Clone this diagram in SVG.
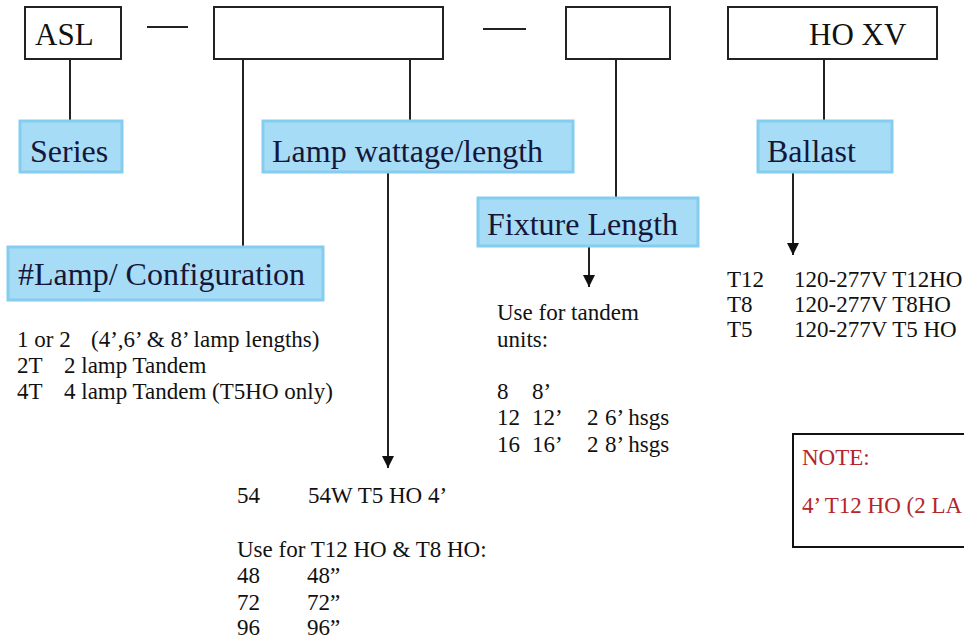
<svg xmlns="http://www.w3.org/2000/svg" width="964" height="640" viewBox="0 0 964 640">
<style>
.code{fill:#fff;stroke:#222;stroke-width:2}
.lab{fill:#a7dcf6;stroke:#84cdee;stroke-width:3}
.lt{font-family:"Liberation Serif","Times New Roman",serif;font-size:32px;fill:#16163a}
.ct{font-family:"Liberation Serif","Times New Roman",serif;font-size:31px;fill:#111}
.bt{font-family:"Liberation Serif","Times New Roman",serif;font-size:23px;fill:#111}
.rt{font-family:"Liberation Serif","Times New Roman",serif;font-size:23px;fill:#b3262b}
.ln{stroke:#222;stroke-width:2;fill:none}
</style>
<defs>
<marker id="ah" viewBox="0 0 10 10" refX="10" refY="5" markerWidth="6" markerHeight="6" markerUnits="strokeWidth" orient="auto">
<path d="M0,0 L10,5 L0,10 z" fill="#111"/>
</marker>
</defs>
<rect width="964" height="640" fill="#fff"/>
<g id="connectors">
<line class="ln" x1="147" y1="27" x2="188" y2="27"/>
<line class="ln" x1="483" y1="29" x2="526" y2="29"/>
<line class="ln" x1="70" y1="59" x2="70" y2="121"/>
<line class="ln" x1="243" y1="59" x2="243" y2="247"/>
<line class="ln" x1="410" y1="59" x2="410" y2="121"/>
<line class="ln" x1="616" y1="59" x2="616" y2="198"/>
<line class="ln" x1="824" y1="59" x2="824" y2="121"/>
<line class="ln" x1="388" y1="172" x2="388" y2="468" marker-end="url(#ah)"/>
<line class="ln" x1="589" y1="246" x2="589" y2="287" marker-end="url(#ah)"/>
<line class="ln" x1="793" y1="172" x2="793" y2="255" marker-end="url(#ah)"/>
</g>
<g id="code-asl"><rect class="code" x="25" y="7" width="96" height="52"/><text class="ct" x="35" y="45">ASL</text></g>
<g id="code-lamp"><rect class="code" x="214" y="7" width="229" height="52"/></g>
<g id="code-fixture"><rect class="code" x="566" y="7" width="104" height="52"/></g>
<g id="code-ballast"><rect class="code" x="728" y="7" width="209" height="52"/><text class="ct" x="809" y="45">HO XV</text></g>
<g id="series"><rect class="lab" x="20" y="121" width="102" height="51"/><text class="lt" x="30" y="162">Series</text></g>
<g id="lamp-wattage"><rect class="lab" x="263" y="121" width="310" height="51"/><text class="lt" x="272" y="162">Lamp wattage/length</text></g>
<g id="ballast"><rect class="lab" x="758" y="121" width="134" height="51"/><text class="lt" x="767" y="162">Ballast</text></g>
<g id="fixture-length"><rect class="lab" x="478" y="198" width="220" height="48"/><text class="lt" x="487" y="235">Fixture Length</text></g>
<g id="lamp-config"><rect class="lab" x="8" y="247" width="315" height="53"/><text class="lt" x="18" y="285">#Lamp/ Configuration</text></g>
<g id="config-list" class="bt">
<text class="bt" x="17" y="347">1 or 2</text><text class="bt" x="91" y="347">(4’,6’ &amp; 8’ lamp lengths)</text>
<text class="bt" x="17" y="373">2T</text><text class="bt" x="64" y="373">2 lamp Tandem</text>
<text class="bt" x="17" y="399">4T</text><text class="bt" x="64" y="399">4 lamp Tandem (T5HO only)</text>
</g>
<g id="fixture-list">
<text class="bt" x="497" y="320">Use for tandem</text>
<text class="bt" x="497" y="347">units:</text>
<text class="bt" x="497" y="399">8</text><text class="bt" x="532" y="399">8’</text>
<text class="bt" x="497" y="425">12</text><text class="bt" x="532" y="425">12’</text><text class="bt" x="587" y="425">2</text><text class="bt" x="605" y="425">6’ hsgs</text>
<text class="bt" x="497" y="452">16</text><text class="bt" x="532" y="452">16’</text><text class="bt" x="587" y="452">2</text><text class="bt" x="605" y="452">8’ hsgs</text>
</g>
<g id="ballast-list">
<text class="bt" x="727" y="287">T12</text><text class="bt" x="794" y="287">120-277V T12HO</text>
<text class="bt" x="727" y="312">T8</text><text class="bt" x="794" y="312">120-277V T8HO</text>
<text class="bt" x="727" y="337">T5</text><text class="bt" x="794" y="337">120-277V T5 HO</text>
</g>
<g id="wattage-list">
<text class="bt" x="237" y="503">54</text><text class="bt" x="308" y="503">54W T5 HO 4’</text>
<text class="bt" x="237" y="557">Use for T12 HO &amp; T8 HO:</text>
<text class="bt" x="237" y="583">48</text><text class="bt" x="307" y="583">48”</text>
<text class="bt" x="237" y="610">72</text><text class="bt" x="307" y="610">72”</text>
<text class="bt" x="237" y="635">96</text><text class="bt" x="307" y="635">96”</text>
</g>
<g id="note">
<rect x="793" y="434" width="180" height="113" fill="#fff" stroke="#111" stroke-width="2"/>
<text class="rt" x="802" y="465">NOTE:</text>
<text class="rt" x="802" y="513">4’ T12 HO (2 LA</text>
</g>
</svg>
